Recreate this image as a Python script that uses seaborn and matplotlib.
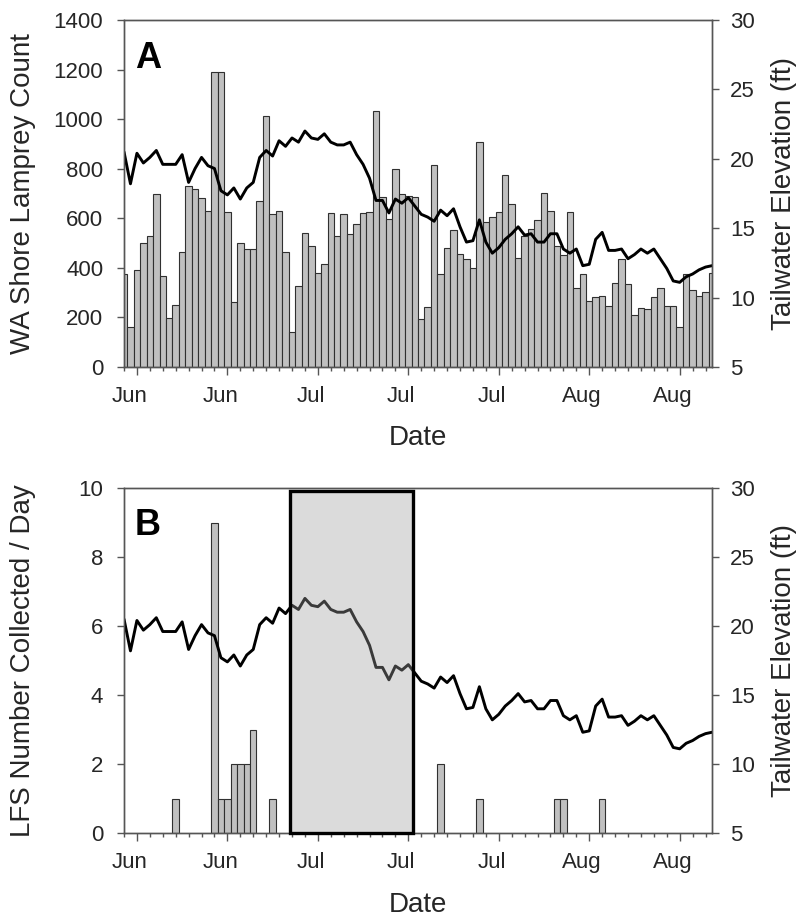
import numpy as np
import pandas as pd
import matplotlib
matplotlib.use("Agg")
import matplotlib.pyplot as plt
import matplotlib.transforms as mtransforms
from matplotlib.patches import Rectangle
from matplotlib.ticker import FixedLocator
import seaborn as sns

# ---------------- data ----------------
day_index = list(range(92))  # consecutive days, day 0 = Jun 2

lamprey_count = [377, 162, 390, 502, 530, 696, 369, 199, 249, 462,
                 731, 717, 680, 629, 1190, 1190, 626, 264, 502, 475,
                 478, 669, 1012, 618, 631, 462, 143, 328, 542, 489,
                 380, 416, 623, 528, 619, 538, 575, 622, 626, 1034,
                 684, 596, 798, 697, 690, 684, 195, 242, 813, 376,
                 481, 551, 455, 437, 401, 906, 583, 607, 626, 773,
                 658, 441, 530, 556, 592, 701, 631, 490, 452, 627,
                 317, 377, 268, 281, 285, 245, 340, 434, 336, 210,
                 237, 233, 281, 317, 245, 245, 160, 374, 309, 286,
                 304, 381]

tailwater_ft = [20.5, 18.2, 20.4, 19.7, 20.1, 20.6, 19.6, 19.6, 19.6, 20.3,
                18.3, 19.3, 20.1, 19.5, 19.3, 17.7, 17.4, 17.9, 17.1, 17.9,
                18.3, 20.1, 20.6, 20.2, 21.3, 20.9, 21.5, 21.2, 22.0, 21.5,
                21.4, 21.8, 21.2, 21.0, 21.0, 21.2, 20.3, 19.6, 18.6, 17.0,
                17.0, 16.1, 17.1, 16.8, 17.2, 16.6, 16.0, 15.8, 15.5, 16.3,
                15.9, 16.4, 15.1, 14.0, 14.1, 15.6, 14.0, 13.2, 13.6, 14.2,
                14.6, 15.1, 14.5, 14.6, 14.0, 14.0, 14.6, 14.6, 13.5, 13.2,
                13.5, 12.3, 12.4, 14.2, 14.7, 13.4, 13.4, 13.5, 12.8, 13.1,
                13.5, 13.2, 13.5, 12.8, 12.1, 11.2, 11.1, 11.5, 11.7, 12.0,
                12.2, 12.3]

lfs_days = [8, 14, 15, 16, 17, 18, 19, 20, 23, 49, 55, 67, 68, 74]
lfs_counts = [1, 9, 1, 1, 2, 2, 2, 3, 1, 2, 1, 1, 1, 1]

# shaded period (day index start/end)
period_start = 25.7
period_end = 44.8

tick_days = [2, 16, 30, 44, 58, 72, 86]
tick_labels = ["Jun", "Jun", "Jul", "Jul", "Jul", "Aug", "Aug"]

df_a = pd.DataFrame({"day": day_index, "count": lamprey_count, "tw": tailwater_ft})
df_b = pd.DataFrame({"day": lfs_days, "lfs": lfs_counts})

# ---------------- style ----------------
sns.set_style("white")
plt.rcParams["font.family"] = ["Liberation Sans", "DejaVu Sans"]

BAR_FC = "#c0c0c0"
BAR_EC = "#303030"
SPINE = "#555555"
TICK_FS = 16
LABEL_FS = 20

fig = plt.figure(figsize=(8, 9.19), dpi=100)
W, H = 800, 919
axA = fig.add_axes([124 / W, 1 - 367 / H, 588 / W, 347 / H])
axB = fig.add_axes([124 / W, 1 - 833 / H, 588 / W, 345 / H])


def style_axes(ax, ax2, ylim, yticks, ylabel, letter):
    ax.set_xlim(0, 91)
    ax.set_ylim(*ylim)
    ax.set_yticks(yticks)
    ax2.set_ylim(5, 30)
    ax2.set_yticks([5, 10, 15, 20, 25, 30])
    ax.xaxis.set_major_locator(FixedLocator(tick_days))
    ax.set_xticklabels(tick_labels)
    ax.xaxis.set_minor_locator(FixedLocator(list(range(0, 92, 2))))
    ax.tick_params(axis="x", which="major", direction="out", length=6, width=1,
                   color=SPINE, labelsize=TICK_FS, pad=8, bottom=True)
    ax.tick_params(axis="x", which="minor", direction="out", length=3, width=1,
                   color=SPINE, bottom=True)
    ax.tick_params(axis="y", which="major", direction="out", length=5, width=1,
                   color=SPINE, labelsize=TICK_FS, pad=10, left=True)
    ax2.tick_params(axis="y", which="major", direction="out", length=5, width=1,
                    color=SPINE, labelsize=TICK_FS, pad=8, right=True)
    for a in (ax, ax2):
        for s in a.spines.values():
            s.set_visible(True)
            s.set_color(SPINE)
            s.set_linewidth(1)
    ax.set_ylabel(ylabel, fontsize=LABEL_FS, va="center", ha="center")
    ax.yaxis.set_label_coords(-0.172, 0.5)
    ax2.set_ylabel("Tailwater Elevation (ft)", fontsize=LABEL_FS, va="center", ha="center")
    ax2.yaxis.set_label_coords(1.122, 0.5)
    ax.set_xlabel("Date", fontsize=LABEL_FS, va="center")
    ax.xaxis.set_label_coords(0.5, -0.205)
    ax.text(0.041, 0.89, letter, transform=ax.transAxes, fontsize=26,
            fontweight="bold", ha="center", va="center", color="black")


# ---------------- panel A ----------------
sns.barplot(data=df_a, x="day", y="count", native_scale=True, width=1,
            color=BAR_FC, edgecolor=BAR_EC, linewidth=0.8, saturation=1,
            ax=axA)
axA2 = axA.twinx()
sns.lineplot(data=df_a, x="day", y="tw", color="black", linewidth=2.1, ax=axA2)
style_axes(axA, axA2, (0, 1400), list(range(0, 1401, 200)),
           "WA Shore Lamprey Count", "A")

# ---------------- panel B ----------------
sns.barplot(data=df_b, x="day", y="lfs", native_scale=True, width=1,
            color=BAR_FC, edgecolor=BAR_EC, linewidth=0.8, saturation=1,
            ax=axB)
axB2 = axB.twinx()
sns.lineplot(data=df_a, x="day", y="tw", color="black", linewidth=2.1, ax=axB2)
style_axes(axB, axB2, (0, 10), list(range(0, 11, 2)),
           "LFS Number Collected / Day", "B")
axB.xaxis.set_label_coords(0.5, -0.209)

# shaded period box (drawn in the left-axis data units)
rect = Rectangle((period_start, 0), period_end - period_start, 9.9,
                 facecolor=(0.62, 0.62, 0.62, 0.37), edgecolor="black",
                 linewidth=2.4, zorder=5, clip_on=False,
                 transform=axB.transData)
axB2.add_patch(rect)

for ax in (axA, axB):
    ax.set_xlim(0, 91)

# shift month labels slightly left of their tick, as in the source
fig.canvas.draw()
offset = mtransforms.ScaledTranslation(-7 / 100, 0, fig.dpi_scale_trans)
for ax in (axA, axB):
    for t in ax.xaxis.get_major_ticks():
        t.label1.set_transform(t.label1.get_transform() + offset)

fig.savefig("out.png", dpi=100)
